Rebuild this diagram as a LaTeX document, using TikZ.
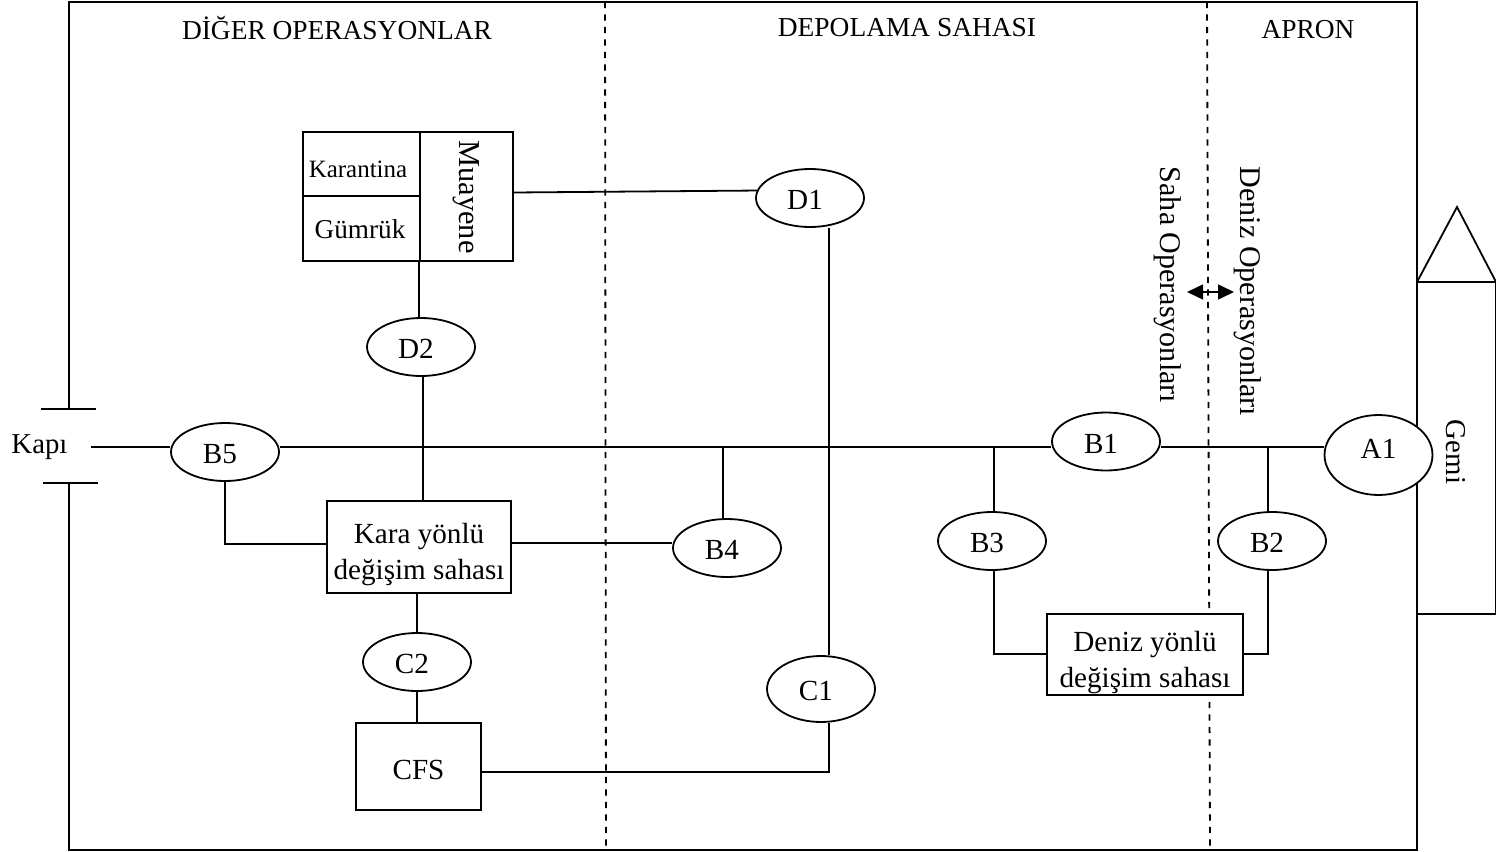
\documentclass[tikz,border=0pt]{standalone}
\usepackage{fontspec}
\setmainfont{Liberation Serif}
\usetikzlibrary{shapes.geometric, arrows.meta}

\tikzset{
  durak/.style={draw, fill=white, ellipse, inner sep=0pt, minimum width=2.16cm, minimum height=1.16cm, text height=.475cm, text depth=0pt, font=\fontsize{16.6}{20.5}\selectfont},
  kayik/.style={execute at begin node={\hspace*{-.2cm}}},
  saha/.style={draw, fill=white, rectangle, inner sep=0pt, align=center, font=\fontsize{16.6}{20.5}\selectfont},
  baslik/.style={font=\fontsize{15.6}{18}\selectfont, inner sep=0pt},
  yazi/.style={font=\fontsize{16.4}{20}\selectfont, inner sep=0pt},
  sinir/.style={dashed, dash pattern=on .125cm off .125cm}
}

\begin{document}
\begin{tikzpicture}[x=.02cm, y=-.02cm, line width=.036cm]
    \path[use as bounding box] (0,0) rectangle (1496,851);

    % alanlar
    \coordinate (kapi_ust) at (69,409);
    \coordinate (kapi_alt) at (69,482);
    \draw (kapi_ust) -- (69,2) -- (1417,2) -- (1417,850) -- (69,850) -- (kapi_alt);
    \draw (41,409) -- (96,409);
    \draw (43,483) -- (98,483);
    \draw[sinir] (605,2) -- (606,851);
    \draw[sinir] (1207,2) -- (1210,851);

    \node[baslik] (diger) at (337,28) {DİĞER OPERASYONLAR};
    \node[baslik] (depolama) at (907,28) {DEPOLAMA SAHASI};
    \node[baslik] (apron) at (1308,30) {APRON};

    % gemi
    \draw (1417,282) -- (1457,207) -- (1496,282) -- (1417,282);
    \draw (1496,282) -- (1496,614) -- (1417,614);
    \node[yazi, rotate=-90] (gemi) at (1456,452) {Gemi};

    % denetim kutusu
    \node[saha, minimum width=4.2cm, minimum height=2.58cm] (denetim) at (408,196.5) {};
    \coordinate (bolme_ust) at (420,132);
    \coordinate (bolme_alt) at (420,261);
    \coordinate (bolme_sol) at (303,196);
    \draw (bolme_ust) -- (bolme_alt);
    \draw (bolme_sol) -- (bolme_sol -| bolme_ust);
    \node[inner sep=0pt, font=\fontsize{14.2}{16}\selectfont] (karantina) at (358,169) {Karantina};
    \node[inner sep=0pt, font=\fontsize{15.5}{16}\selectfont] (gumruk) at (360,229) {Gümrük};
    \node[inner sep=0pt, rotate=-90, font=\fontsize{17.3}{20}\selectfont] (muayene) at (466,197) {Muayene};

    % duraklar
    \node[durak, kayik] (D1) at (810,198) {D1};
    \node[durak, kayik] (D2) at (421,347) {D2};
    \node[durak, kayik] (B5) at (225,452) {B5};
    \node[durak, kayik] (B1) at (1106,441.5) {B1};
    \node[durak, kayik] (B4) at (727,548) {B4};
    \node[durak, kayik] (B3) at (992,541) {B3};
    \node[durak, kayik] (B2) at (1272,541) {B2};
    \node[durak, minimum height=1.6cm, text height=.395cm, text depth=.275cm] (A1) at (1378.5,455) {A1};
    \node[durak, kayik] (C2) at (417,662) {C2};
    \node[durak, kayik, minimum height=1.32cm] (C1) at (821,689) {C1};

    % sahalar
    \node[saha, minimum width=3.68cm, minimum height=1.84cm] (kara) at (419,547) {\rule{0pt}{20.6pt}Kara yönlü\\değişim sahası};
    \node[saha, minimum width=3.92cm, minimum height=1.62cm] (deniz) at (1145,654.5) {\rule{0pt}{20.6pt}Deniz yönlü\\değişim sahası};
    \node[saha, minimum width=2.5cm, minimum height=1.74cm] (cfs) at (418.5,766.5) {\rule{0pt}{15.5pt}CFS};

    \node[yazi] (kapi) at (39.5,447) {Kapı};
    \node[yazi, rotate=-90, font=\fontsize{17.1}{20}\selectfont] (deniz_op) at (1248,291.5) {Deniz Operasyonları};
    \node[yazi, rotate=-90, font=\fontsize{17.1}{20}\selectfont] (saha_op) at (1168,285) {Saha Operasyonları};

    \coordinate (ok_sol) at (1187,292);
    \coordinate (ok_sag) at (1234,292);
    \draw[{Triangle[length=.32cm,width=.3cm]}-{Triangle[length=.32cm,width=.3cm]}, line width=.03cm] (ok_sol) -- (ok_sag);

    % ana hat
    \coordinate (hat) at (91,447);
    \coordinate (J_B4) at (723,447);
    \coordinate (J_B3) at (994,447);
    \coordinate (J_B2) at (1268,447);
    \draw (hat) -- (hat -| B5.west);
    \draw (hat -| B5.east) -- (hat -| B1.west);
    \draw (hat -| B1.east) -- (hat -| A1.west);
    \draw (J_B4) -- (J_B4 |- B4.north);
    \draw (J_B3) -- (J_B3 |- B3.north);
    \draw (J_B2) -- (J_B2 |- B2.north);

    % baglantilar
    \draw ([yshift=.08cm]denetim.east) -- (D1.172);
    \coordinate (D_hat) at (829,440);
    \draw (D_hat |- D1.south) -- (D_hat |- C1.north);
    \coordinate (D2_ust) at (419,300);
    \coordinate (D2_alt) at (423,400);
    \draw (D2_ust |- denetim.south) -- (D2_ust |- D2.north);
    \draw (D2_alt |- D2.south) -- (D2_alt |- kara.north);
    \draw (C2.north) -- (C2.north |- kara.south);
    \draw (C2.south) -- (C2.south |- cfs.north);
    \coordinate (C1_alt) at (829,772);
    \draw (C1_alt |- C1.south) -- (C1_alt) -- (C1_alt -| cfs.east);
    \coordinate (B5_alt) at (225,544);
    \draw (B5.south) -- (B5_alt) -- (B5_alt -| kara.west);
    \coordinate (B4_hat) at (600,543);
    \draw (B4_hat -| kara.east) -- (B4_hat -| B4.west);
    \coordinate (B3_alt) at (994,654);
    \draw (B3_alt |- B3.south) -- (B3_alt) -- (B3_alt -| deniz.west);
    \coordinate (B2_alt) at (1268,654);
    \draw (B2_alt |- B2.south) -- (B2_alt) -- (B2_alt -| deniz.east);

\end{tikzpicture}
\end{document}
